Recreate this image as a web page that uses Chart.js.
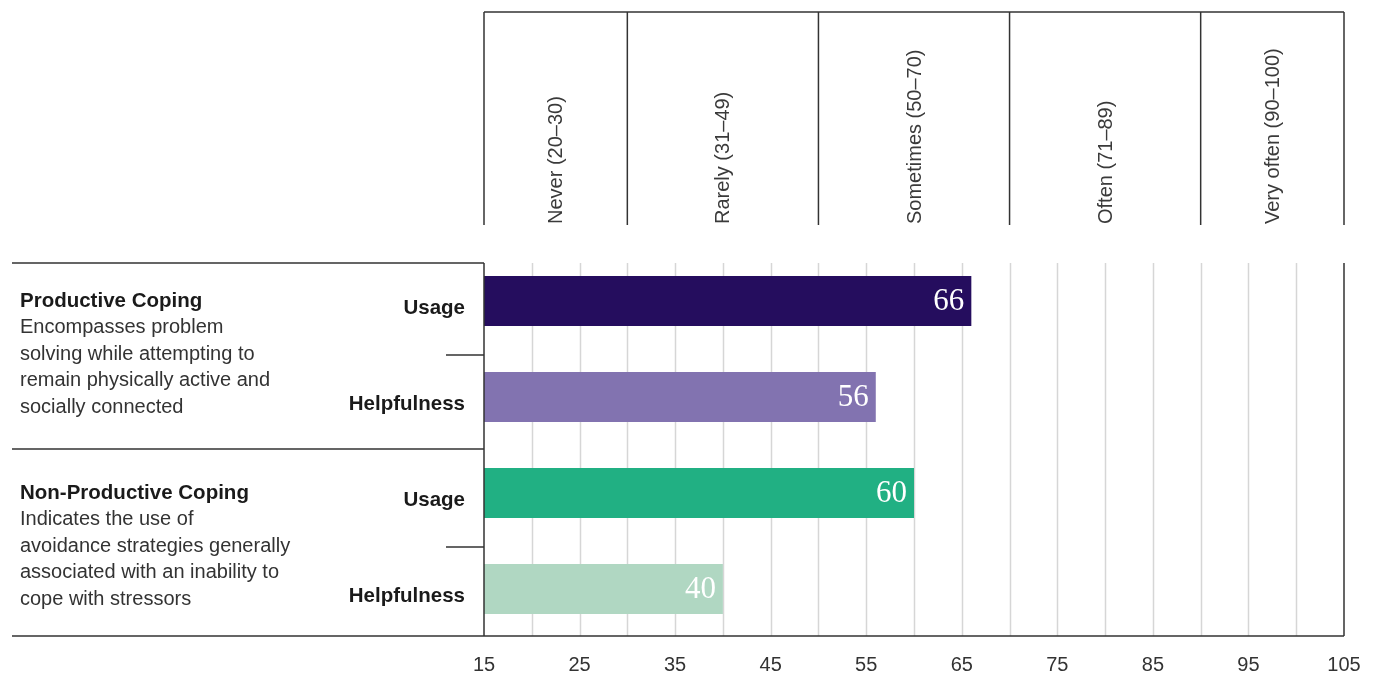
<!DOCTYPE html>
<html>
<head>
<meta charset="utf-8">
<script src="https://cdn.jsdelivr.net/npm/chart.js@4.4.0/dist/chart.umd.min.js"></script>
<style>
  html, body { margin: 0; padding: 0; background: #fff; }
  #wrap { width: 1375px; height: 673px; position: relative; }
  #mycanvas { display: block; }
</style>
</head>
<body>
<div id="wrap"><canvas id="mycanvas" width="1375" height="673"></canvas></div>
<script>
// data
var rowLabels = ['Usage', 'Helpfulness', 'Usage', 'Helpfulness'];
var scores = [66, 56, 60, 40];
var barColors = ['#250d5e', '#8273b0', '#21b083', '#b0d7c2'];

var bandEdges = [15, 30, 50, 70, 90, 105];
var bandLabels = ['Never (20\u201330)', 'Rarely (31\u201349)', 'Sometimes (50\u201370)', 'Often (71\u201389)', 'Very often (90\u2013100)'];

var groupTitles = ['Productive Coping', 'Non-Productive Coping'];
var groupText = [
  ['Encompasses problem', 'solving while attempting to', 'remain physically active and', 'socially connected'],
  ['Indicates the use of', 'avoidance strategies generally', 'associated with an inability to', 'cope with stressors']
];

var xMin = 15, xMax = 105, gridStep = 5, labelStep = 10;

var sans = '"Liberation Sans", Arial, Helvetica, sans-serif';
var lineColor = '#333333';

// header, frame and grid lines
var framePlugin = {
  id: 'frame',
  beforeDatasetsDraw: function(chart) {
    var ctx = chart.ctx;
    var area = chart.chartArea;
    var x = chart.scales.x;
    var gridTop = area.top + 10;
    ctx.save();
    ctx.strokeStyle = '#d6d6d6';
    ctx.lineWidth = 1.5;
    for (var v = xMin + gridStep; v < xMax; v += gridStep) {
      var px = Math.round(x.getPixelForValue(v)) + 0.5;
      ctx.beginPath();
      ctx.moveTo(px, gridTop);
      ctx.lineTo(px, area.bottom - 1);
      ctx.stroke();
    }
    ctx.restore();
  },
  afterDatasetsDraw: function(chart) {
    var ctx = chart.ctx;
    var area = chart.chartArea;
    var x = chart.scales.x;
    var left = x.getPixelForValue(xMin);
    var right = x.getPixelForValue(xMax);
    var gridTop = area.top + 10;
    var bottom = area.bottom - 1;
    var catH = (area.bottom - area.top) / rowLabels.length;

    ctx.save();
    ctx.strokeStyle = lineColor;
    ctx.lineWidth = 1.5;

    // header box
    var hTop = 12, hBottom = 225;
    ctx.beginPath();
    ctx.moveTo(left, hTop);
    ctx.lineTo(right, hTop);
    ctx.stroke();
    bandEdges.forEach(function(e) {
      var px = x.getPixelForValue(e);
      ctx.beginPath();
      ctx.moveTo(px, hTop);
      ctx.lineTo(px, hBottom);
      ctx.stroke();
    });

    // plot frame
    ctx.beginPath();
    ctx.moveTo(left, gridTop);
    ctx.lineTo(left, bottom);
    ctx.moveTo(right, gridTop);
    ctx.lineTo(right, bottom);
    ctx.moveTo(12, bottom);
    ctx.lineTo(right, bottom);
    ctx.moveTo(12, gridTop);
    ctx.lineTo(left, gridTop);
    ctx.moveTo(12, area.top + 2 * catH + 4);
    ctx.lineTo(left, area.top + 2 * catH + 4);
    // small separators between usage and helpfulness
    ctx.moveTo(446, area.top + catH + 6);
    ctx.lineTo(left, area.top + catH + 6);
    ctx.moveTo(446, area.top + 3 * catH + 6);
    ctx.lineTo(left, area.top + 3 * catH + 6);
    ctx.stroke();

    // band labels
    ctx.fillStyle = '#3a3a3a';
    ctx.font = '20px ' + sans;
    ctx.textAlign = 'left';
    ctx.textBaseline = 'middle';
    bandLabels.forEach(function(lbl, i) {
      var cx = (x.getPixelForValue(bandEdges[i]) + x.getPixelForValue(bandEdges[i + 1])) / 2;
      ctx.save();
      ctx.translate(cx + 1, hBottom - 1);
      ctx.rotate(-Math.PI / 2);
      ctx.fillText(lbl, 0, 0);
      ctx.restore();
    });

    // group descriptions
    ctx.textBaseline = 'middle';
    groupTitles.forEach(function(t, g) {
      var y0 = area.top + g * 2 * catH + 48;
      ctx.fillStyle = '#1a1a1a';
      ctx.font = 'bold 20.5px ' + sans;
      ctx.fillText(t, 20, y0);
      ctx.fillStyle = '#333333';
      ctx.font = '20px ' + sans;
      groupText[g].forEach(function(line, k) {
        ctx.fillText(line, 20, y0 + 26.5 * (k + 1));
      });
    });

    // value labels
    var meta = chart.getDatasetMeta(0);
    ctx.fillStyle = '#ffffff';
    ctx.font = '31px "Liberation Serif", "DejaVu Serif", serif';
    ctx.textAlign = 'right';
    ctx.textBaseline = 'middle';
    meta.data.forEach(function(bar, i) {
      ctx.fillText(String(scores[i]), bar.x - 7, bar.y + 1);
    });
    ctx.restore();
  }
};

var ctx = document.getElementById('mycanvas');

var barGraph = new Chart(ctx, {
  type: 'bar',
  data: {
    labels: rowLabels,
    datasets: [{
      data: scores,
      backgroundColor: barColors,
      borderWidth: 0,
      categoryPercentage: 1,
      barPercentage: 0.52
    }]
  },
  options: {
    indexAxis: 'y',
    responsive: false,
    animation: false,
    devicePixelRatio: 1,
    layout: { padding: { left: 0, top: 253, right: 31, bottom: 0 } },
    plugins: { legend: { display: false }, tooltip: { enabled: false } },
    scales: {
      x: {
        type: 'linear',
        min: xMin,
        max: xMax,
        border: { display: false },
        grid: { display: false, drawTicks: false },
        ticks: {
          stepSize: gridStep,
          autoSkip: false,
          maxRotation: 0,
          padding: 16,
          color: '#333333',
          font: { family: sans, size: 20 },
          callback: function(v) {
            return ((v - xMin) % labelStep === 0) ? String(v) : '';
          }
        },
        afterFit: function(s) { s.height = 36; s.paddingRight = 0; s.paddingLeft = 0; }
      },
      y: {
        border: { display: false },
        grid: { display: false, drawTicks: false },
        ticks: {
          padding: 19,
          labelOffset: 7,
          color: '#1a1a1a',
          font: { family: sans, size: 20.5, weight: 'bold' }
        },
        afterFit: function(s) { s.width = 484; }
      }
    }
  },
  plugins: [framePlugin]
});
</script>
</body>
</html>
